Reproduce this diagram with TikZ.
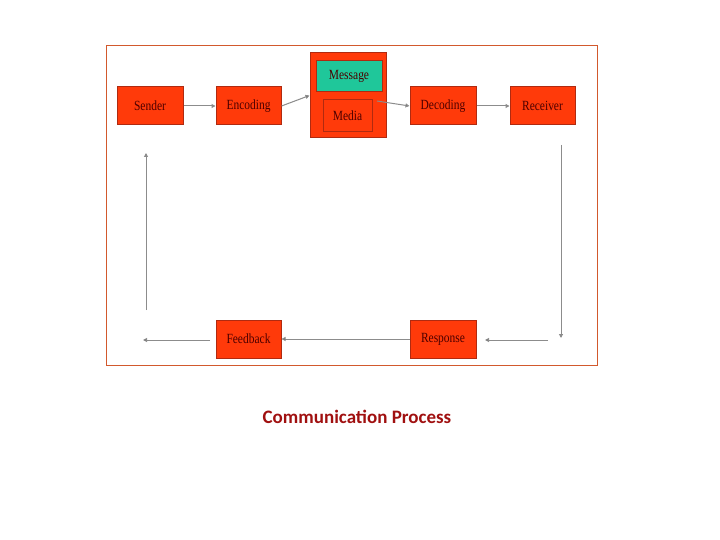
\documentclass[tikz,border=0pt]{standalone}
\usepackage{fontspec}
\setmainfont{Liberation Serif}
\newfontfamily\titlefont{Carlito}
\usetikzlibrary{arrows.meta}
\definecolor{boxred}{HTML}{FF3A0A}
\definecolor{boxedge}{HTML}{B02A10}
\definecolor{teal}{HTML}{1FC79A}
\definecolor{titlered}{HTML}{A01010}
\begin{document}
\begin{tikzpicture}[x=1pt,y=-1pt,
  blk/.style={draw=boxedge,line width=1pt,fill=boxred,inner sep=0pt},
  lbl/.style={font=\fontsize{14}{14}\selectfont,text=black!70!red,xscale=0.82},
  con/.style={draw=black!45,line width=1pt,-{Triangle[length=4pt,width=4pt,fill=black]}}]
\useasboundingbox (0,0) rectangle (720,540);
\draw[draw=brown!70!red,line width=0.7pt] (106,45) rectangle (597,365);
\node[blk,minimum width=66pt,minimum height=38pt] (sender) at (150,106) {};
\node[lbl] at (sender) {Sender};
\node[blk,minimum width=65pt,minimum height=38pt] (enc) at (248.5,106) {};
\node[lbl] at (enc) {Encoding};
\node[blk,minimum width=76pt,minimum height=85pt] (outer) at (348,95.5) {};
\node[draw=boxedge,line width=1pt,fill=teal,minimum width=66pt,minimum height=31pt] (msg) at (349,76.5) {};
\node[lbl] at (msg) {Message};
\node[blk,minimum width=49pt,minimum height=32pt] (media) at (347.5,116) {};
\node[lbl] at (media) {Media};
\node[blk,minimum width=66pt,minimum height=38pt] (dec) at (443,106) {};
\node[lbl] at (dec) {Decoding};
\node[blk,minimum width=65pt,minimum height=38pt] (recv) at (542.5,106) {};
\node[lbl] at (recv) {Receiver};
\node[blk,minimum width=65pt,minimum height=38pt] (fb) at (248.5,339) {};
\node[lbl] at (fb) {Feedback};
\node[blk,minimum width=66pt,minimum height=38pt] (resp) at (443,339) {};
\node[lbl] at (resp) {Response};
\coordinate (r1) at (561,145); \coordinate (r2) at (561,338);
\coordinate (h1) at (548,340); \coordinate (h2) at (485,340);
\coordinate (f1) at (210,340); \coordinate (f2) at (143,340);
\coordinate (l1) at (146,310); \coordinate (l2) at (146,153);
\coordinate (m1) at (377,101);
\draw[con] (sender.east) -- (enc.west);
\draw[con] (enc.east) -- (outer.west);
\draw[con] (m1) -- (dec.west);
\draw[con] (dec.east) -- (recv.west);
\draw[con] (r1) -- (r2);
\draw[con] (h1) -- (h2);
\draw[con] (resp.west) -- (fb.east);
\draw[con] (f1) -- (f2);
\draw[con] (l1) -- (l2);
\node[font=\titlefont\bfseries\fontsize{19}{19}\selectfont,text=titlered] (title) at (357,417) {Communication Process};
\end{tikzpicture}
\end{document}
